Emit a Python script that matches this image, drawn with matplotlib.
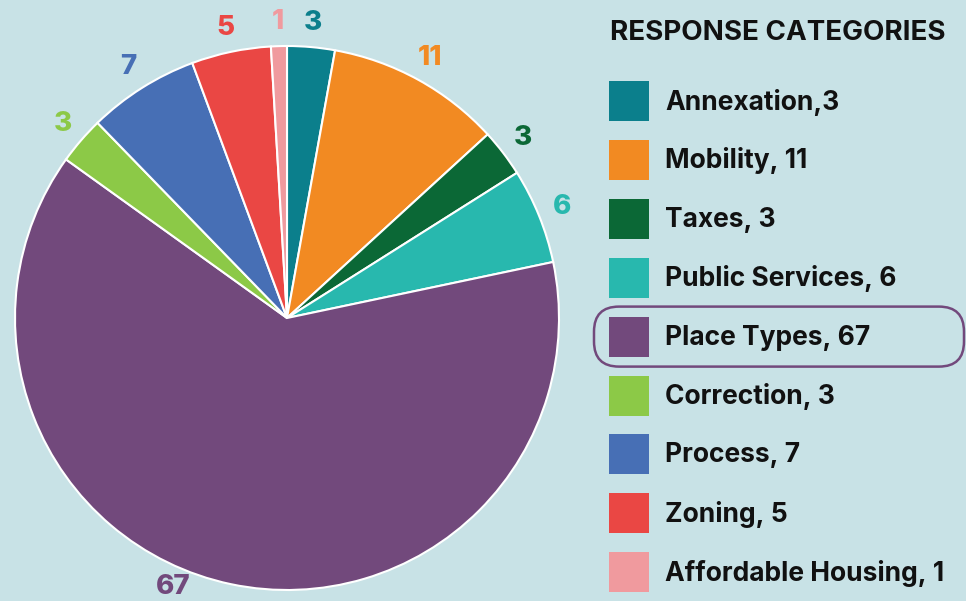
import numpy as np
import matplotlib.pyplot as plt
from matplotlib.patches import Rectangle, FancyBboxPatch

categories = ['Annexation', 'Mobility', 'Taxes', 'Public Services', 'Place Types',
              'Correction', 'Process', 'Zoning', 'Affordable Housing']
values = [3, 11, 3, 6, 67, 3, 7, 5, 1]
legend_labels = ['Annexation,3', 'Mobility, 11', 'Taxes, 3', 'Public Services, 6',
                 'Place Types, 67', 'Correction, 3', 'Process, 7', 'Zoning, 5',
                 'Affordable Housing, 1']
colors = ['#0b7f8c', '#f28a22', '#0b6836', '#28b8ae', '#72497c',
          '#8cc947', '#476fb5', '#ea4744', '#f09a9e']
highlight = 'Place Types'

W, H = 966, 601
bg = '#c8e2e6'
plt.rcParams['font.family'] = ['Inter', 'DejaVu Sans']

fig = plt.figure(figsize=(W / 100, H / 100), dpi=100, facecolor=bg)
ax = fig.add_axes([0, 0, 1, 1])
ax.set_facecolor(bg)

cx, cy, r = 287, H - 318, 272
wedges, texts = ax.pie(values, colors=colors, startangle=90, counterclock=False,
                       center=(cx, cy), radius=r, labels=[str(v) for v in values],
                       labeldistance=1.09,
                       wedgeprops=dict(edgecolor='white', linewidth=1.5),
                       textprops=dict(fontsize=20, fontweight='heavy'))
for t, c in zip(texts, colors):
    t.set_color(c)
    t.set_ha('center')
    t.set_va('center')

# the big slice label is pulled in so it stays inside the picture
big = categories.index(highlight)
ang = np.deg2rad(90 - 203)
texts[big].set_position((cx + 1.075 * r * np.cos(ang), cy + 1.075 * r * np.sin(ang)))

ax.set_xlim(0, W)
ax.set_ylim(0, H)
ax.set_aspect('equal')
ax.axis('off')

# legend
ax.text(610, H - 33, 'RESPONSE CATEGORIES', fontsize=20, fontweight='bold',
        color='#111111', va='center', ha='left')
row0, step = 101, 58.9
for i, (lab, c) in enumerate(zip(legend_labels, colors)):
    yc = H - (row0 + i * step)
    ax.add_patch(Rectangle((609, yc - 20), 40, 40, facecolor=c, edgecolor='none'))
    ax.text(665, yc - 1, lab, fontsize=19, fontweight='bold', color='#111111',
            va='center', ha='left')
    if categories[i] == highlight:
        ax.add_patch(FancyBboxPatch((594 + 25, yc - 30 + 25), 370 - 50, 60 - 50,
                                    boxstyle='round,pad=25', facecolor='none',
                                    edgecolor='#72497c', linewidth=1.8,
                                    clip_on=False))

fig.savefig('out.png', dpi=100, facecolor=bg)
